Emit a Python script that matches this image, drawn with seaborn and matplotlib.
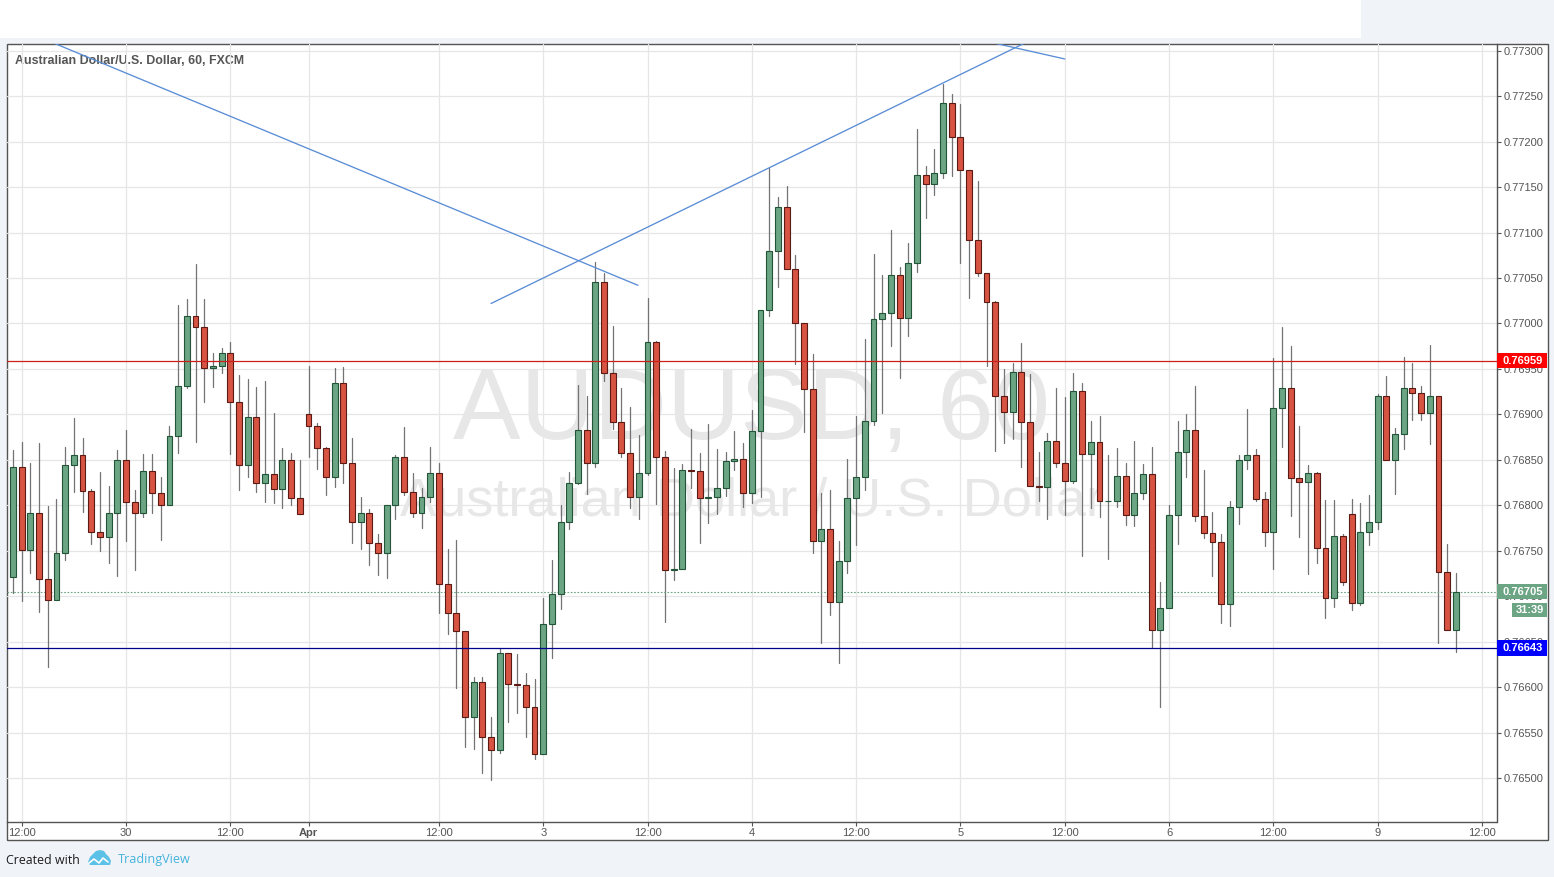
import matplotlib
matplotlib.use('Agg')
import matplotlib.pyplot as plt
from matplotlib.patches import Polygon, Rectangle
import numpy as np
import pandas as pd
import seaborn as sns

# hourly candles, prices in 1e-5 units (76721 = 0.76721)
opens = [76721, 76842, 76751, 76791, 76719, 76696, 76748, 76844, 76855, 76816,
         76771, 76765, 76791, 76850, 76804, 76791, 76838, 76813, 76800, 76876,
         76931, 77008, 76996, 76951, 76953, 76968, 76914, 76844, 76897, 76824,
         76834, 76818, 76850, 76808, 76900, 76887, 76863, 76831, 76934, 76846,
         76782, 76792, 76758, 76747, 76800, 76853, 76815, 76791, 76809, 76836,
         76713, 76681, 76662, 76567, 76606, 76545, 76531, 76637, 76603, 76602,
         76578, 76526, 76669, 76702, 76782, 76825, 76883, 76847, 77046, 76945,
         76892, 76858, 76809, 76836, 76980, 76853, 76729, 76730, 76839, 76838,
         76808, 76809, 76819, 76849, 76851, 76814, 76882, 77015, 77080, 77128,
         77060, 77000, 76928, 76761, 76774, 76694, 76739, 76808, 76831, 76893,
         77005, 77011, 77053, 77006, 77066, 77163, 77154, 77166, 77243, 77205,
         77169, 77092, 77055, 77024, 76920, 76903, 76947, 76892, 76821, 76820,
         76871, 76846, 76827, 76926, 76856, 76870, 76805, 76805, 76832, 76789,
         76813, 76834, 76663, 76687, 76789, 76859, 76883, 76788, 76769, 76760,
         76691, 76798, 76850, 76855, 76807, 76771, 76907, 76929, 76830, 76826,
         76835, 76753, 76698, 76766, 76790, 76692, 76771, 76782, 76920, 76850,
         76878, 76929, 76924, 76901, 76920, 76727, 76663]
highs = [76861, 76870, 76846, 76868, 76799, 76807, 76864, 76896, 76874, 76818,
         76837, 76821, 76861, 76883, 76817, 76856, 76856, 76831, 76887, 77020,
         77027, 77065, 77027, 76968, 76973, 76980, 76943, 76939, 76930, 76937,
         76901, 76863, 76857, 76850, 76953, 76890, 76864, 76951, 76952, 76874,
         76809, 76796, 76768, 76800, 76855, 76886, 76835, 76819, 76864, 76847,
         76752, 76762, 76662, 76611, 76611, 76567, 76643, 76637, 76636, 76615,
         76609, 76698, 76740, 76800, 76837, 76932, 76920, 77068, 77056, 76997,
         76929, 76908, 76877, 77028, 76981, 76860, 76841, 76845, 76884, 76857,
         76889, 76862, 76859, 76882, 76868, 76905, 77015, 77171, 77139, 77151,
         77075, 77000, 76966, 76813, 76817, 76761, 76851, 76898, 76983, 77077,
         77053, 77103, 77062, 77089, 77214, 77173, 77192, 77263, 77252, 77241,
         77169, 77157, 77056, 77025, 76950, 76956, 76978, 76944, 76859, 76879,
         76929, 76919, 76945, 76934, 76893, 76898, 76855, 76863, 76846, 76871,
         76845, 76864, 76716, 76800, 76893, 76900, 76931, 76839, 76793, 76768,
         76805, 76855, 76906, 76862, 76815, 76962, 76996, 76975, 76887, 76844,
         76837, 76806, 76806, 76768, 76807, 76803, 76811, 76922, 76942, 76885,
         76963, 76957, 76931, 76976, 76920, 76757, 76726]
lows = [76703, 76695, 76725, 76683, 76622, 76696, 76740, 76815, 76793, 76757,
        76750, 76736, 76722, 76761, 76729, 76787, 76792, 76762, 76800, 76858,
        76929, 76870, 76914, 76930, 76946, 76856, 76817, 76831, 76815, 76804,
        76802, 76797, 76800, 76790, 76853, 76840, 76811, 76820, 76824, 76759,
        76752, 76734, 76723, 76720, 76785, 76811, 76787, 76775, 76804, 76682,
        76658, 76599, 76534, 76532, 76506, 76498, 76527, 76562, 76571, 76545,
        76521, 76526, 76632, 76686, 76774, 76823, 76812, 76842, 76937, 76884,
        76853, 76797, 76785, 76833, 76801, 76672, 76718, 76730, 76819, 76759,
        76781, 76790, 76810, 76839, 76798, 76803, 76809, 77008, 77040, 77060,
        76955, 76881, 76747, 76648, 76679, 76627, 76726, 76756, 76817, 76888,
        76901, 76975, 76940, 76986, 77057, 77116, 77141, 77160, 77162, 77067,
        77028, 77052, 76953, 76860, 76868, 76873, 76842, 76821, 76805, 76785,
        76842, 76789, 76824, 76744, 76797, 76787, 76741, 76798, 76778, 76777,
        76807, 76644, 76578, 76687, 76757, 76831, 76783, 76764, 76722, 76671,
        76667, 76779, 76840, 76805, 76755, 76730, 76864, 76788, 76765, 76724,
        76737, 76676, 76688, 76712, 76685, 76690, 76756, 76774, 76850, 76812,
        76862, 76894, 76894, 76867, 76648, 76663, 76639]
closes = [76842, 76751, 76791, 76719, 76696, 76748, 76844, 76855, 76816, 76771,
          76765, 76791, 76850, 76804, 76791, 76838, 76813, 76800, 76876, 76931,
          77008, 76996, 76951, 76953, 76968, 76914, 76844, 76897, 76824, 76834,
          76818, 76850, 76808, 76790, 76887, 76863, 76831, 76934, 76846, 76782,
          76792, 76758, 76747, 76800, 76853, 76815, 76791, 76809, 76836, 76713,
          76681, 76662, 76567, 76606, 76545, 76531, 76637, 76603, 76602, 76578,
          76526, 76669, 76702, 76782, 76825, 76883, 76847, 77046, 76945, 76892,
          76858, 76809, 76836, 76980, 76853, 76729, 76730, 76839, 76838, 76808,
          76809, 76819, 76849, 76851, 76814, 76882, 77015, 77080, 77128, 77060,
          77000, 76928, 76761, 76774, 76694, 76739, 76808, 76831, 76893, 77005,
          77011, 77053, 77006, 77066, 77163, 77154, 77166, 77243, 77205, 77169,
          77092, 77055, 77024, 76920, 76903, 76947, 76892, 76821, 76820, 76871,
          76846, 76827, 76926, 76856, 76870, 76805, 76805, 76832, 76789, 76813,
          76834, 76663, 76687, 76789, 76859, 76883, 76788, 76769, 76760, 76691,
          76798, 76850, 76855, 76807, 76771, 76907, 76929, 76830, 76826, 76835,
          76753, 76698, 76766, 76716, 76692, 76771, 76782, 76920, 76850, 76878,
          76929, 76924, 76901, 76920, 76727, 76663, 76705]

time_ticks = [1, 13, 25, 34, 49, 61, 73, 85, 97, 109, 121, 133, 145, 157, 169]
time_labels = ['12:00', '30', '12:00', 'Apr', '12:00', '3', '12:00', '4', '12:00', '5',
               '12:00', '6', '12:00', '9', '12:00']
price_ticks = [76500, 76550, 76600, 76650, 76700, 76750, 76800, 76850, 76900, 76950,
               77000, 77050, 77100, 77150, 77200, 77250, 77300]

resistance = 76959
support = 76643
last_price = 76705
countdown = '31:39'

# trend lines drawn on the chart: (bar, price) of both ends
trend_bars = [(4.8, 71.9), (55.0, 116.3), (113.1, 121.0)]
trend_prices = [(77308, 77042), (77022, 77308), (77308, 77291)]

W, H = 1554, 877
BG = '#f0f3f8'
UP, UP_EDGE = '#6ba583', '#225437'
DOWN, DOWN_EDGE = '#d75442', '#5b1a13'
TEXT = '#555555'
FRAME = '#535353'


def rect(left, top, right, bottom):
    return [left / W, 1 - bottom / H, (right - left) / W, (bottom - top) / H]


df = pd.DataFrame({'o': opens, 'h': highs, 'l': lows, 'c': closes})
df['bar'] = np.arange(len(df))
df['base'] = df[['o', 'c']].min(axis=1)
df['body'] = (df['c'] - df['o']).abs()
up = df[df['c'] >= df['o']]
down = df[df['c'] < df['o']]
wicks = df.melt(id_vars='bar', value_vars=['h', 'l'], value_name='price').sort_values('bar')

sns.set_style('whitegrid')
plt.rcParams['font.family'] = ['Liberation Sans', 'DejaVu Sans']

fig = plt.figure(figsize=(W / 100, H / 100), dpi=100, facecolor=BG)

# page furniture in pixel coordinates
page = fig.add_axes([0, 0, 1, 1], zorder=0)
page.set_xlim(0, W)
page.set_ylim(H, 0)
page.axis('off')
page.add_patch(Rectangle((0, 0), 1361, 38, fc='white', ec='none'))
page.add_patch(Rectangle((6.5, 43.5), 1541, 796.5, fc='white', ec=FRAME, lw=1.0))
page.text(6, 860, 'Created with', family='Open Sans', fontsize=8.9, color='#1c1c1c', va='center')
page.text(118, 860, 'TradingView', family='Open Sans', fontsize=9.1, color='#46b4dc', va='center')
page.add_patch(Polygon([(88, 862), (90, 857), (93, 854), (96, 851), (100, 850), (104, 851), (106, 854),
                        (109, 857), (111, 861), (110, 865), (90, 865)],
                       closed=True, fc='#5cc1e6', ec='none'))
page.plot([89, 94, 99, 103, 108], [863, 859, 863, 858, 862], color='white', lw=1.2)

ax = fig.add_axes(rect(6.5, 43.5, 1496.5, 822), zorder=1)
ax.patch.set_alpha(0)

# watermark
ax.text(0.5, 0.525, 'AUDUSD, 60', transform=ax.transAxes, ha='center', va='center', fontsize=73,
        color='#e7e7e7', zorder=1)
ax.text(0.5, 0.412, 'Australian Dollar / U.S. Dollar', transform=ax.transAxes, ha='center', va='center',
        fontsize=39, color='#e7e7e7', zorder=1)

sns.lineplot(data=wicks, x='bar', y='price', units='bar', estimator=None, sort=False, color='#737375',
             lw=0.9, zorder=2, ax=ax)
sns.barplot(x=up['bar'], y=up['body'], bottom=up['base'].values, native_scale=True, width=0.68,
            color=UP, saturation=1, edgecolor=UP_EDGE, linewidth=0.8, errorbar=None, zorder=3, ax=ax)
sns.barplot(x=down['bar'], y=down['body'], bottom=down['base'].values, native_scale=True, width=0.68,
            color=DOWN, saturation=1, edgecolor=DOWN_EDGE, linewidth=0.8, errorbar=None, zorder=3, ax=ax)

ax.axhline(resistance, color='#cc1f1a', lw=0.9, zorder=4)
ax.axhline(support, color='#00008f', lw=0.9, zorder=4)
ax.axhline(last_price, color=UP, lw=0.8, ls=(0, (1.5, 1.5)), zorder=2.5)
for bars, prices in zip(trend_bars, trend_prices):
    ax.plot(bars, prices, color='#5a8dd6', lw=0.95, zorder=4)

ax.set_xlim((6.5 - 13) / 8.692, (1496.5 - 13) / 8.692)
ax.set_ylim(77000 - (822 - 323.5) * 1.1, 77000 + (323.5 - 43.5) * 1.1)
ax.set_xlabel('')
ax.set_ylabel('')

ax.set_xticks(time_ticks)
ax.set_xticklabels(time_labels)
ax.set_yticks(price_ticks)
ax.set_yticklabels(['%.5f' % (p / 1e5) for p in price_ticks])
ax.yaxis.tick_right()
ax.tick_params(axis='x', length=3, width=0.8, color=FRAME, labelsize=8.0, labelcolor=TEXT, pad=1, bottom=True)
ax.tick_params(axis='y', length=3, width=0.8, color=FRAME, labelsize=8.0, labelcolor=TEXT, pad=2, right=True)
ax.get_xticklabels()[3].set_fontweight('bold')
ax.grid(True, color='#e6e6e6', lw=0.9)
ax.set_axisbelow(True)
for side in ['top', 'left']:
    ax.spines[side].set_visible(False)
for side in ['right', 'bottom']:
    ax.spines[side].set_color(FRAME)
    ax.spines[side].set_linewidth(1.0)

page.text(15, 60.5, 'Australian Dollar/U.S. Dollar, 60, FXCM', fontsize=8.9, fontweight='bold', color=TEXT,
          va='center', zorder=5)

# price labels sit over the tick labels
labels = fig.add_axes(rect(1497, 43.5, 1547.5, 822), zorder=2)
labels.patch.set_alpha(0)
labels.axis('off')
labels.set_xlim(0, 50.5)
labels.set_ylim(ax.get_ylim())
for price, color in [(resistance, '#ff0000'), (support, '#0000ff'), (last_price, UP)]:
    labels.add_patch(Rectangle((0, price - 8.5), 50.5, 17, fc=color, ec='none'))
    labels.text(25.5, price, '%.5f' % (price / 1e5), color='white', fontweight='bold', fontsize=8.0,
                ha='center', va='center')
labels.add_patch(Rectangle((15, last_price - 27.5), 35.5, 15.5, fc=UP, ec='none'))
labels.text(33, last_price - 19.7, countdown, color='white', fontweight='bold', fontsize=8.0, ha='center',
            va='center')

fig.savefig('out.png', dpi=100, facecolor=BG)
